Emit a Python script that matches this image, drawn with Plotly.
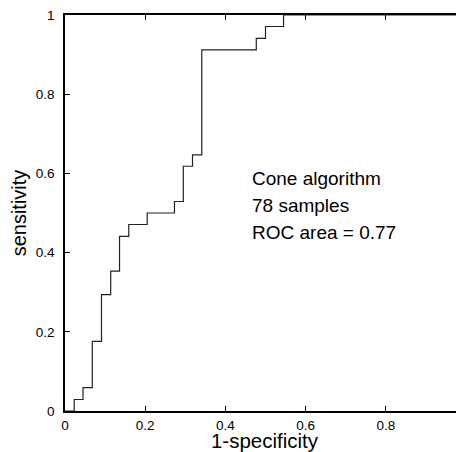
import plotly.graph_objects as go

# ROC curve (1-specificity, sensitivity), stepped
fpr = [0, 0.023, 0.045, 0.068, 0.091, 0.114, 0.136, 0.159, 0.205, 0.273,
       0.295, 0.318, 0.341, 0.477, 0.5, 0.545, 1.0]
tpr = [0, 0.029, 0.059, 0.176, 0.294, 0.353, 0.441, 0.471, 0.5, 0.529,
       0.618, 0.647, 0.912, 0.941, 0.971, 1.0, 1.0]

tick_vals = [0, 0.2, 0.4, 0.6, 0.8, 1]
tick_text = ["0", "0.2", "0.4", "0.6", "0.8", "1"]
note_lines = ["Cone algorithm", "78 samples", "ROC area = 0.77"]

FONT = "Liberation Sans, Arial, Helvetica, sans-serif"

fig = go.Figure()
fig.add_trace(go.Scatter(
    x=fpr, y=tpr, mode="lines", line_shape="hv",
    line=dict(color="#222222", width=1.2), showlegend=False, hoverinfo="skip",
))
# invisible trace that carries the right-hand tick axis
fig.add_trace(go.Scatter(
    x=[0], y=[0], xaxis="x", yaxis="y2", mode="markers",
    marker=dict(opacity=0), showlegend=False, hoverinfo="skip",
))

axis_common = dict(
    tickvals=tick_vals, ticktext=tick_text, ticks="inside", ticklen=5,
    tickwidth=1, tickcolor="black", showgrid=False, zeroline=False,
    showline=True, linecolor="black", linewidth=1.6,
    tickfont=dict(family=FONT, size=13.5, color="black"),
    ticklabeloverflow="allow",
)

fig.update_xaxes(
    range=[0, 0.995], mirror="ticks", ticklabelstandoff=1,
    title=dict(text="1-specificity", font=dict(family=FONT, size=20.5, color="black"), standoff=2),
    **axis_common,
)
fig.update_yaxes(
    range=[0, 1], mirror=False, ticklabelstandoff=6,
    title=dict(text="sensitivity", font=dict(family=FONT, size=20, color="black"), standoff=8),
    **axis_common,
)
fig.update_layout(
    yaxis2=dict(
        overlaying="y", side="right", matches="y", range=[0, 1],
        tickvals=tick_vals, ticks="inside", ticklen=4, tickwidth=1,
        tickcolor="black", showticklabels=False, showgrid=False,
        zeroline=False, showline=False,
    ),
)

for i, line in enumerate(note_lines):
    fig.add_annotation(
        x=0.462, y=0.586 - i * 0.068, xref="x", yref="y", text=line,
        showarrow=False, xanchor="left", yanchor="middle",
        font=dict(family=FONT, size=19, color="black"),
    )

# page body adds an 8px margin, so the figure is 8px smaller on each side
fig.update_layout(
    width=456, height=444,
    margin=dict(l=57, r=0, t=3, b=41, pad=0),
    plot_bgcolor="white", paper_bgcolor="white",
)

fig.write_html("out.html")
